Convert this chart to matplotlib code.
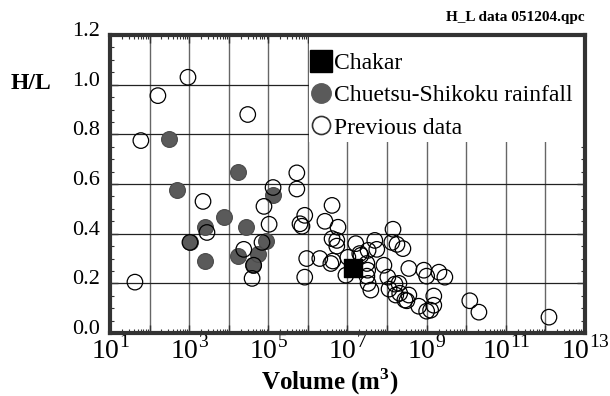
import numpy as np
import matplotlib
matplotlib.use("Agg")
import matplotlib.pyplot as plt
from matplotlib.lines import Line2D
from matplotlib.patches import Rectangle
from matplotlib.transforms import ScaledTranslation
from matplotlib.ticker import LogLocator, FixedLocator, NullFormatter, MultipleLocator

plt.rcParams['font.family'] = ['Liberation Serif', 'DejaVu Serif']
plt.rcParams['mathtext.fontset'] = 'custom'
plt.rcParams['mathtext.rm'] = 'Liberation Serif'
plt.rcParams['mathtext.bf'] = 'Liberation Serif:bold'

# Datos (log10 del volumen, H/L)
chakar_logv = [7.14]
chakar_hl = [0.26]

chuetsu_logv = [2.49, 2.69, 3.02, 3.40, 3.40, 3.88, 4.23, 4.23, 4.43, 4.61, 4.74, 4.94, 5.12]
chuetsu_hl = [0.78, 0.578, 0.365, 0.426, 0.29, 0.466, 0.65, 0.31, 0.426, 0.273, 0.32, 0.37, 0.555]

prev_logv = [1.63, 1.78, 2.21, 2.97, 3.02, 3.35, 3.45, 4.38, 4.48, 4.59, 4.63, 4.84, 4.89,
             5.02, 5.12, 5.72, 5.72, 5.80, 5.85, 5.92, 5.92, 5.97, 6.30, 6.43, 6.58, 6.63,
             6.61, 6.61, 6.73, 6.73, 6.76, 6.96, 7.01, 7.21, 7.31, 7.34, 7.49, 7.51, 7.49,
             7.52, 7.59, 7.52, 7.69, 7.74, 7.92, 8.02, 8.05, 8.12, 8.15, 8.20, 8.22, 8.25,
             8.30, 8.32, 8.40, 8.45, 8.50, 8.55, 8.55, 8.80, 8.93, 9.00, 9.00, 9.10, 9.18,
             9.18, 9.31, 9.46, 10.09, 10.32, 12.09]
prev_hl = [0.205, 0.775, 0.956, 1.03, 0.365, 0.53, 0.405, 0.337, 0.88, 0.22, 0.273, 0.365, 0.51,
           0.438, 0.586, 0.645, 0.58, 0.44, 0.43, 0.474, 0.225, 0.30, 0.30, 0.45, 0.28, 0.29,
           0.514, 0.38, 0.373, 0.35, 0.426, 0.233, 0.305, 0.36, 0.32, 0.313, 0.28, 0.253, 0.229,
           0.20, 0.173, 0.333, 0.373, 0.337, 0.273, 0.225, 0.177, 0.365, 0.418, 0.197, 0.153, 0.357,
           0.20, 0.16, 0.34, 0.133, 0.13, 0.153, 0.26, 0.108, 0.253, 0.229, 0.088, 0.092, 0.112,
           0.149, 0.245, 0.225, 0.13, 0.084, 0.064]

x_ticks_lab = [1, 3, 5, 7, 9, 11, 13]
y_ticks = [0.0, 0.2, 0.4, 0.6, 0.8, 1.0, 1.2]

fig = plt.figure(figsize=(6.1, 3.96), dpi=100)
ax = fig.add_axes([0.1803, 0.159, 0.7787, 0.7525])

ax.set_xscale('log')
ax.set_xlim(1e1, 1e13)
ax.set_ylim(0, 1.2)

# Grilla
for e in range(2, 13):
    ax.axvline(10.0**e, color='#666666', lw=1.0, zorder=1)
for yv in [0.2, 0.4, 0.6, 0.8, 1.0]:
    ax.axhline(yv, color='#222222', lw=0.9, zorder=1)

# Fondo blanco de la leyenda
ax.add_patch(Rectangle((0.418, 0.64), 0.58, 0.36, transform=ax.transAxes,
                       facecolor='white', edgecolor='none', zorder=2))

ax.scatter(10.0**np.array(chuetsu_logv), chuetsu_hl, s=130, c='#5a5a5a',
           edgecolors='#4a4a4a', linewidths=0.8, zorder=3)
ax.scatter(10.0**np.array(prev_logv), prev_hl, s=125, facecolors='none',
           edgecolors='black', linewidths=0.9, zorder=4)
ax.scatter(10.0**np.array(chakar_logv), chakar_hl, s=150, marker='s', c='black', zorder=5)

# Ejes y ticks
ax.xaxis.set_major_locator(FixedLocator([10.0**e for e in range(1, 14)]))
ax.xaxis.set_minor_locator(LogLocator(base=10, subs=np.arange(2, 10), numticks=100))
ax.xaxis.set_minor_formatter(NullFormatter())
ax.set_xticklabels([r'$10^{%d}$' % e if e in x_ticks_lab else '' for e in range(1, 14)])
ax.set_yticks(y_ticks)
ax.set_yticklabels(['%.1f' % v for v in y_ticks])
ax.yaxis.set_minor_locator(MultipleLocator(0.05))

ax.tick_params(which='both', direction='in', top=True, right=True, color='#333333')
ax.tick_params(which='major', length=6, width=1)
ax.tick_params(which='minor', length=3, width=0.8)
ax.tick_params(axis='x', labelsize=20, pad=2)
ax.tick_params(axis='y', labelsize=16, pad=7)
for lab in ax.get_yticklabels():
    lab.set_transform(lab.get_transform() + ScaledTranslation(0, 0.06, fig.dpi_scale_trans))

for sp in ax.spines.values():
    sp.set_linewidth(3)
    sp.set_color('#333333')
    sp.set_zorder(6)

# Leyenda
handles = [
    Line2D([], [], ls='none', marker='s', ms=16, mfc='black', mec='black'),
    Line2D([], [], ls='none', marker='o', ms=14, mfc='#5a5a5a', mec='#5a5a5a'),
    Line2D([], [], ls='none', marker='o', ms=13, mfc='none', mec='#333333', mew=1.2),
]
ax.legend(handles, ['Chakar', 'Chuetsu-Shikoku rainfall', 'Previous data'],
          loc='upper left', bbox_to_anchor=(0.393, 0.988), frameon=False,
          fontsize=17, handlelength=0.9, handletextpad=0.1, labelspacing=0.45,
          borderpad=0.1)

fig.text(0.051, 0.79, 'H/L', fontsize=17, fontweight='bold', ha='center', va='center')
fig.text(0.54, 0.036, r'Volume (m$^{\mathbf{3}}$)', fontsize=18, fontweight='bold',
         ha='center', va='center')
fig.text(0.958, 0.955, 'H_L data 051204.qpc', fontsize=11, fontweight='bold',
         ha='right', va='center')

fig.savefig('out.png', dpi=100)
